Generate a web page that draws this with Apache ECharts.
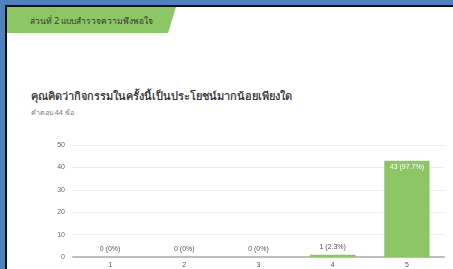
<!DOCTYPE html>
<html>
<head>
<meta charset="utf-8">
<script src="https://cdn.jsdelivr.net/npm/echarts@6/dist/echarts.min.js"></script>
<style>
  html, body { margin: 0; padding: 0; background: #fff; }
  #page { position: relative; width: 453px; height: 269px; overflow: hidden; background: #fff; font-family: "Noto Sans", "DejaVu Sans", sans-serif; }
  #frameTop { position: absolute; left: 0; top: 0; width: 453px; height: 5px; background: #4f81bd; }
  #frameLeft { position: absolute; left: 0; top: 0; width: 5px; height: 269px; background: #4f81bd; }
  #lineTop { position: absolute; left: 5px; top: 5px; width: 448px; height: 2px; background: #111; }
  #lineLeft { position: absolute; left: 5px; top: 5px; width: 2px; height: 264px; background: #111; }
  #banner { position: absolute; left: 7px; top: 7px; width: 169px; height: 26px; background: #8cc665;
    clip-path: polygon(0 0, 100% 0, calc(100% - 8px) 100%, 0 100%); }
  #banner span { position: absolute; left: 23px; top: 7px; font-size: 8.5px; color: #3a3a3a; white-space: nowrap; }
  #question { position: absolute; left: 31px; top: 87px; font-size: 11px; color: #202124; white-space: nowrap; -webkit-text-stroke: 0.2px #202124; }
  #count { position: absolute; left: 31px; top: 107px; font-size: 7px; color: #777; white-space: nowrap; }
  #chart { position: absolute; left: 0; top: 0; width: 453px; height: 269px; }
</style>
</head>
<body>
<div id="page">
  <div id="frameTop"></div>
  <div id="frameLeft"></div>
  <div id="lineTop"></div>
  <div id="lineLeft"></div>
  <div id="banner"><span>ส่วนที่ 2 แบบสำรวจความพึงพอใจ</span></div>
  <div id="question">คุณคิดว่ากิจกรรมในครั้งนี้เป็นประโยชน์มากน้อยเพียงใด</div>
  <div id="count">คำตอบ 44 ข้อ</div>
  <div id="chart"></div>
</div>
<script>
  const categories = ['1', '2', '3', '4', '5']
  const counts = [0, 0, 0, 1, 43]
  const percents = ['0%', '0%', '0%', '2.3%', '97.7%']
  const yTicks = [0, 10, 20, 30, 40, 50]

  const chart = echarts.init(document.getElementById('chart'))

  // ค่าน้อยแสดงป้ายด้านบน ค่าแท่งสูงแสดงป้ายข้างในแท่ง
  const barData = counts.map((v) => {
    const big = v > 10
    return {
      value: v,
      label: big ? {
        position: 'insideTop',
        color: '#fff',
        distance: 3
      } : {
        position: 'top',
        color: '#555',
        distance: 4
      }
    }
  })

  chart.setOption({
    animation: false,
    grid: { left: 73, right: 9, top: 145, bottom: 12 },
    xAxis: {
      type: 'category',
      data: categories,
      axisLine: { lineStyle: { color: '#bdbdbd', width: 2 } },
      axisTick: { show: false },
      axisLabel: { color: '#555', fontSize: 7, margin: 5 }
    },
    yAxis: {
      type: 'value',
      min: yTicks[0],
      max: yTicks[yTicks.length - 1],
      interval: 10,
      axisLine: { show: false },
      axisTick: { show: false },
      axisLabel: { color: '#666', fontSize: 7, margin: 8 },
      splitLine: { lineStyle: { color: '#ececec', width: 1 } }
    },
    series: [{
      type: 'bar',
      data: barData,
      barWidth: '61%',
      itemStyle: { color: '#8cc665' },
      label: {
        show: true,
        fontSize: 7,
        formatter: p => p.value + ' (' + percents[p.dataIndex] + ')'
      }
    }]
  })
</script>
</body>
</html>
